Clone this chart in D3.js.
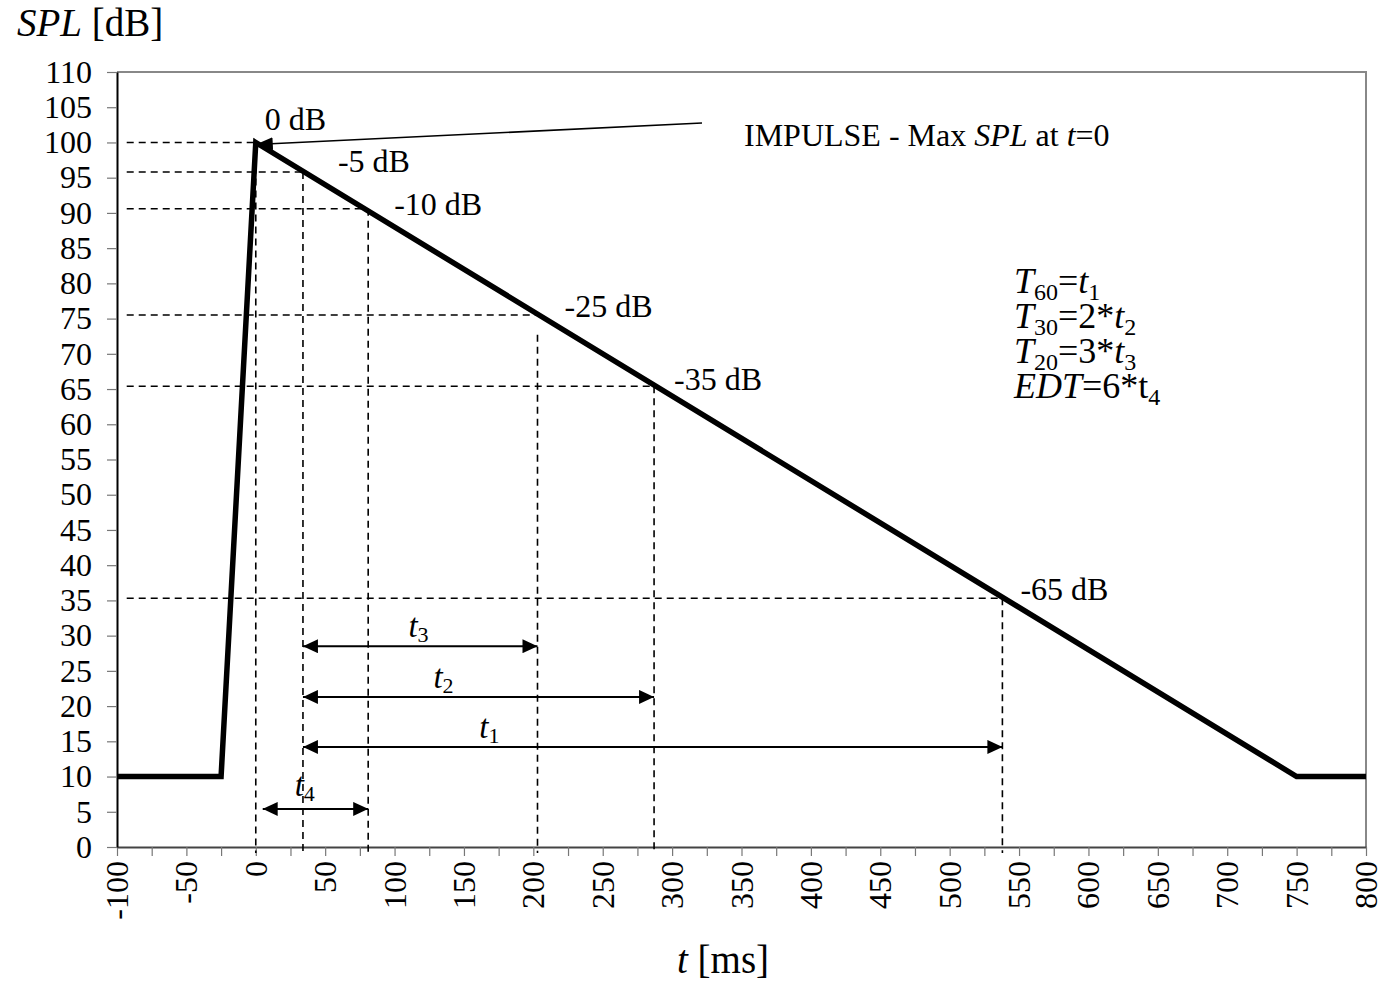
<!DOCTYPE html>
<html>
<head>
<meta charset="utf-8">
<script src="https://cdn.jsdelivr.net/npm/d3@7"></script>
<style>
  html, body { margin: 0; padding: 0; background: #fff; }
  svg { display: block; font-family: "Liberation Serif", "Times New Roman", serif; }
</style>
</head>
<body>
<svg id="chart" width="1389" height="982"></svg>
<script>
// Decay curve of sound pressure level (ms, dB)
const curveT = [-100, -25, 0, 750, 800];
const curveSPL = [10, 10, 100, 10, 10];

// Marked decay points: time, level and relative label
const markT = [0, 34, 81, 203, 287, 538];
const markSPL = [100, 95.8, 90.6, 75.5, 65.4, 35.3];
const markLabels = ["0 dB", "-5 dB", "-10 dB", "-25 dB", "-35 dB", "-65 dB"];
// Level where each vertical guide starts
const guideTop = [100, 95.8, 90.6, 72.7, 65.4, 35.3];

// Measured intervals: start, end, row level, label position, name and subscript
const spanStart = [34, 34, 34, 5];
const spanEnd = [203, 287, 538, 81];
const spanLevel = [28.5, 21.3, 14.2, 5.4];
const spanLabelT = [110, 128, 161, 28];
const spanName = ["t", "t", "t", "t"];
const spanSub = ["3", "2", "1", "4"];

// Axis ticks
const xTicks = d3.range(-100, 801, 25);
const xLabels = d3.range(-100, 801, 50);
const yTicks = d3.range(0, 111, 5);

const svg = d3.select("#chart");
const W = 1389, H = 982;
const m = { left: 117, top: 72, right: 23, bottom: 135 };
const x = d3.scaleLinear().domain([-100, 800]).range([m.left, W - m.right]);
const y = d3.scaleLinear().domain([0, 110]).range([H - m.bottom, m.top]);
const FS = 32;
const SERIF = "Liberation Serif, Times New Roman, serif";

const defs = svg.append("defs");
defs.append("marker").attr("id", "ah").attr("viewBox", "0 0 15 14")
  .attr("refX", 15).attr("refY", 7).attr("markerWidth", 15).attr("markerHeight", 14)
  .attr("markerUnits", "userSpaceOnUse").attr("orient", "auto-start-reverse")
  .append("path").attr("d", "M0,0 L15,7 L0,14 Z").attr("fill", "#000");
defs.append("marker").attr("id", "ah2").attr("viewBox", "0 0 17 13")
  .attr("refX", 17).attr("refY", 6.5).attr("markerWidth", 17).attr("markerHeight", 13)
  .attr("markerUnits", "userSpaceOnUse").attr("orient", "auto")
  .append("path").attr("d", "M0,0 L17,6.5 L0,13 Z").attr("fill", "#000");

// Frame: top and right borders
svg.append("path")
  .attr("d", `M${x(-100)},${y(110)} H${x(800)} V${y(0)}`)
  .attr("fill", "none").attr("stroke", "#888").attr("stroke-width", 2);

// X axis
const gx = svg.append("g").attr("transform", `translate(0,${y(0)})`)
  .call(d3.axisBottom(x).tickValues(xTicks).tickSize(9).tickSizeOuter(0).tickFormat(""));
gx.select(".domain").attr("stroke", "#444").attr("stroke-width", 2);
gx.selectAll(".tick line").attr("stroke", "#777").attr("stroke-width", 1.2);

svg.append("g").selectAll("text").data(xLabels).join("text")
  .attr("transform", d => `translate(${x(d) + 11},${y(0) + 14}) rotate(-90)`)
  .attr("text-anchor", "end")
  .attr("font-size", FS).attr("fill", "#000")
  .text(d => d);

// Y axis
const gy = svg.append("g").attr("transform", `translate(${x(-100)},0)`)
  .call(d3.axisLeft(y).tickValues(yTicks).tickSize(10).tickSizeOuter(0).tickPadding(15));
gy.attr("font-family", SERIF).attr("font-size", FS);
gy.select(".domain").attr("stroke", "#000").attr("stroke-width", 2);
gy.selectAll(".tick line").attr("stroke", "#777").attr("stroke-width", 1.2);
gy.selectAll(".tick text").attr("fill", "#000");

// Axis titles
const yt = svg.append("text").attr("x", 17).attr("y", 36).attr("font-size", 39);
yt.append("tspan").attr("font-style", "italic").text("SPL");
yt.append("tspan").text(" [dB]");
const xt = svg.append("text").attr("x", 677).attr("y", 973).attr("font-size", 39);
xt.append("tspan").attr("font-style", "italic").text("t");
xt.append("tspan").text(" [ms]");

// Dashed guides
const guides = svg.append("g").attr("stroke", "#000").attr("stroke-width", 1.6)
  .attr("stroke-dasharray", "7,5").attr("fill", "none");
markT.forEach((t, i) => {
  guides.append("line").attr("x1", x(-93)).attr("x2", x(t))
    .attr("y1", y(markSPL[i])).attr("y2", y(markSPL[i]));
  guides.append("line").attr("x1", x(t)).attr("x2", x(t))
    .attr("y1", y(guideTop[i])).attr("y2", y(0) + 6);
});

// Decay curve
svg.append("path")
  .datum(curveT.map((t, i) => [t, curveSPL[i]]))
  .attr("d", d3.line().x(d => x(d[0])).y(d => y(d[1])))
  .attr("fill", "none").attr("stroke", "#000").attr("stroke-width", 5.5)
  .attr("stroke-linejoin", "miter");

// Level labels along the decay
const lblDx = [9, 35, 26, 27, 20, 18];
const lblDy = [-12, 0, 6, 2, 4, 2];
svg.append("g").selectAll("text").data(markT).join("text")
  .attr("x", (t, i) => x(t) + lblDx[i])
  .attr("y", (t, i) => y(markSPL[i]) + lblDy[i])
  .attr("font-size", FS)
  .text((t, i) => markLabels[i]);

// Interval arrows
spanStart.forEach((s, i) => {
  svg.append("line")
    .attr("x1", x(s)).attr("x2", x(spanEnd[i]))
    .attr("y1", y(spanLevel[i])).attr("y2", y(spanLevel[i]))
    .attr("stroke", "#000").attr("stroke-width", 2)
    .attr("marker-start", "url(#ah)").attr("marker-end", "url(#ah)");
  const lbl = svg.append("text")
    .attr("x", x(spanLabelT[i]))
    .attr("y", y(spanLevel[i]) - (i === 3 ? 13 : 9))
    .attr("font-size", 33);
  lbl.append("tspan").attr("font-style", "italic").text(spanName[i]);
  lbl.append("tspan").attr("font-size", 22).attr("dy", 5).text(spanSub[i]);
});

// Impulse annotation
svg.append("line")
  .attr("x1", 702).attr("y1", 123)
  .attr("x2", x(0)).attr("y2", y(100) + 2)
  .attr("stroke", "#000").attr("stroke-width", 1.6)
  .attr("marker-end", "url(#ah2)");
const imp = svg.append("text").attr("x", 744).attr("y", 146).attr("font-size", FS);
imp.append("tspan").text("IMPULSE - Max ");
imp.append("tspan").attr("font-style", "italic").text("SPL");
imp.append("tspan").text(" at ");
imp.append("tspan").attr("font-style", "italic").text("t");
imp.append("tspan").text("=0");

// Reverberation time relations
const formulas = [
  [["T", "i"], ["60", "s"], ["=", ""], ["t", "i"], ["1", "s"]],
  [["T", "i"], ["30", "s"], ["=2*", ""], ["t", "i"], ["2", "s"]],
  [["T", "i"], ["20", "s"], ["=3*", ""], ["t", "i"], ["3", "s"]],
  [["EDT", "i"], ["=6*t", ""], ["4", "s"]]
];
formulas.forEach((parts, r) => {
  const tx = svg.append("text").attr("x", 1014).attr("y", 293 + r * 35).attr("font-size", 36);
  let sub = false;
  parts.forEach(([txt, st]) => {
    const ts = tx.append("tspan").text(txt);
    if (st === "i") ts.attr("font-style", "italic");
    if (st === "s") { ts.attr("font-size", 24).attr("dy", sub ? 0 : 7); sub = true; }
    else if (sub) { ts.attr("dy", -7); sub = false; }
  });
});
</script>
</body>
</html>
